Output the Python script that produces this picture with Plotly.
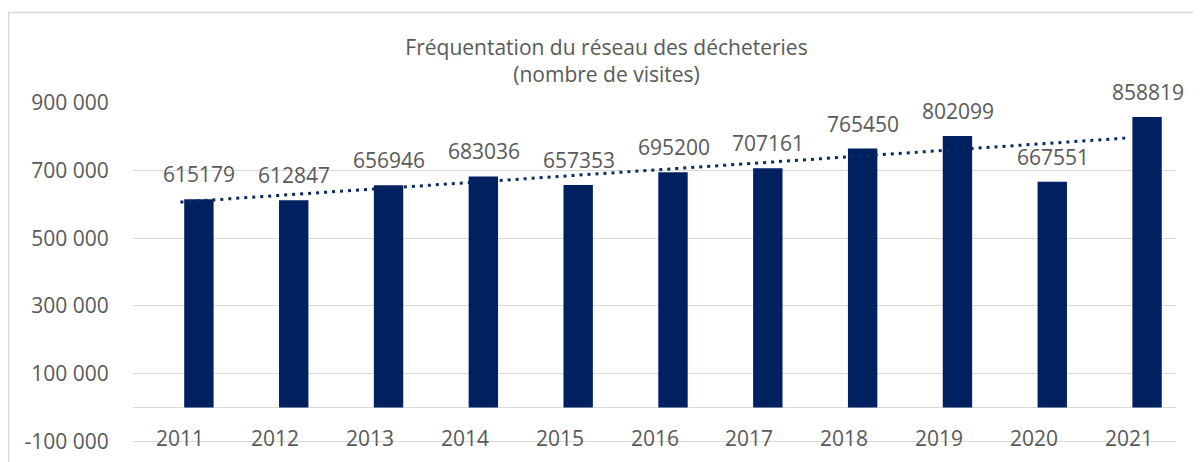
import numpy as np
import plotly.graph_objects as go

years = ["2011", "2012", "2013", "2014", "2015", "2016", "2017", "2018", "2019", "2020", "2021"]
visits = [615179, 612847, 656946, 683036, 657353, 695200, 707161, 765450, 802099, 667551, 858819]
y_ticks = [-100000, 100000, 300000, 500000, 700000, 900000]
y_ticktext = [f"{v:,}".replace(",", " ") for v in y_ticks]
title_lines = ["Fréquentation du réseau des décheteries", "(nombre de visites)"]

BAR = "#002060"
TXT = "#595959"
GRID = "#d9d9d9"
FONT = "Open Sans"

# linear trendline (as Excel computes it)
idx = np.arange(1, len(visits) + 1)
slope, intercept = np.polyfit(idx, visits, 1)
trend = slope * idx + intercept

# page body has an 8px margin -> figure coordinates are page coordinates minus 8
OFF = 8
W, H = 1201, 462
ML, MR, MT, MB = 125, 33, 95, 26.8

fig = go.Figure()
fig.add_trace(go.Bar(
    x=years, y=visits, marker=dict(color=BAR, line=dict(width=0)),
    width=0.31, offset=0.04, hoverinfo="skip",
))
fig.add_trace(go.Scatter(
    x=years, y=trend, mode="lines",
    line=dict(color="#0b2a5e", width=3, dash="3px,5px"),
    hoverinfo="skip",
))

annotations = []
for i, (yr, v) in enumerate(zip(years, visits)):
    annotations.append(dict(
        x=i, y=v, xref="x", yref="y", text=str(v), showarrow=False,
        xshift=19, yshift=25, yanchor="middle", xanchor="center",
        font=dict(family=FONT, size=21, color=TXT),
    ))
    annotations.append(dict(
        x=i, y=y_ticks[0], xref="x", yref="y", text=yr, showarrow=False,
        yshift=3, yanchor="middle", xanchor="center",
        font=dict(family=FONT, size=21, color=TXT),
    ))

pw = W - ML - MR
ph = H - MT - MB
def px_x(p):
    return (p - OFF - ML) / pw
def px_y(p):
    return (H - MB - (p - OFF)) / ph

fig.update_layout(
    width=W, height=H,
    margin=dict(l=ML, r=MR, t=MT, b=MB, pad=0, autoexpand=False),
    paper_bgcolor="white", plot_bgcolor="white",
    showlegend=False,
    title=dict(
        text="<br>".join(title_lines), x=(606.5 - OFF) / W, xref="container", xanchor="center",
        y=1 - 47 / H, yref="container", yanchor="top",
        font=dict(family=FONT, size=21, color=TXT),
    ),
    xaxis=dict(
        type="category", showticklabels=False, showgrid=False, zeroline=False,
        showline=False, ticks="", range=[-0.5, len(years) - 0.5],
    ),
    yaxis=dict(
        range=[-105000, 900000], tickvals=y_ticks, ticktext=y_ticktext,
        showgrid=True, gridcolor=GRID, gridwidth=1,
        zeroline=True, zerolinecolor=GRID, zerolinewidth=1,
        showline=False, ticks="outside", ticklen=19, tickcolor="rgba(0,0,0,0)",
        tickfont=dict(family=FONT, size=21, color=TXT),
    ),
    annotations=annotations,
    shapes=[dict(
        type="rect", xref="paper", yref="paper",
        x0=px_x(8.5), x1=px_x(1215), y0=px_y(480), y1=px_y(12.5),
        line=dict(color=GRID, width=1.5), fillcolor="rgba(0,0,0,0)", layer="below",
    )],
)

fig.write_html("out.html")
